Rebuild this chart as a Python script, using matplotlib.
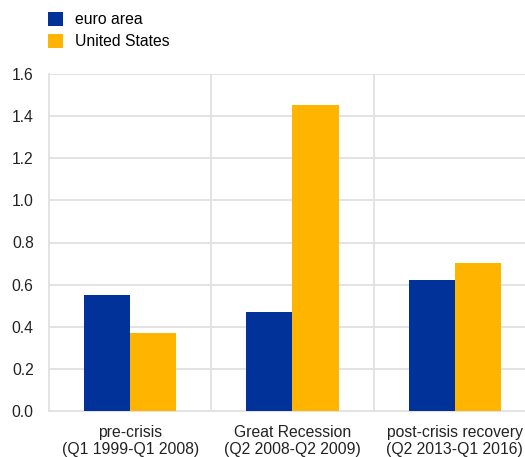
import numpy as np
import matplotlib.pyplot as plt

plt.rcParams['font.family'] = ['Liberation Sans', 'DejaVu Sans']

# data
periods = ["pre-crisis\n(Q1 1999-Q1 2008)",
           "Great Recession\n(Q2 2008-Q2 2009)",
           "post-crisis recovery\n(Q2 2013-Q1 2016)"]
euro_area = [0.55, 0.47, 0.62]
united_states = [0.37, 1.455, 0.705]

c_ea = "#003299"
c_us = "#FFB400"
grid_c = "#e1e1e1"
fs = 11.3

fig = plt.figure(figsize=(5.25, 4.57), dpi=100)
ax = fig.add_axes([49/525, 46/457, 487/525, 337/457])

x = np.arange(len(periods))
w = 0.285
ax.bar(x - w/2, euro_area, width=w, color=c_ea, label="euro area", zorder=3)
ax.bar(x + w/2, united_states, width=w, color=c_us, label="United States", zorder=3)

ax.set_xlim(-0.5, 2.5)
ax.set_ylim(0, 1.6)
ax.set_yticks(np.arange(0, 1.61, 0.2))
ax.set_yticklabels([f"{v:.1f}" for v in np.arange(0, 1.61, 0.2)], fontsize=fs)
ax.set_xticks(x)
ax.set_xticklabels(periods, fontsize=fs, linespacing=1.15)
ax.tick_params(axis="both", length=0, colors="#222222")
ax.tick_params(axis="y", pad=11)
ax.tick_params(axis="x", pad=10)

for v in np.arange(0.2, 1.61, 0.2):
    ax.axhline(v, color=grid_c, lw=1.3, zorder=1)
for b in [0.5, 1.5]:
    ax.axvline(b, color=grid_c, lw=1.3, zorder=1)

for s in ["top", "right"]:
    ax.spines[s].set_visible(False)
for s in ["left", "bottom"]:
    ax.spines[s].set_color(grid_c)
    ax.spines[s].set_linewidth(1.3)

fig.legend(loc="upper left", bbox_to_anchor=(48/525, 1 - 12/457), frameon=False,
           fontsize=fs, handlelength=0.95, handleheight=1.0, handletextpad=0.8,
           labelspacing=0.4, borderaxespad=0, borderpad=0)

fig.savefig("out.png", dpi=100)
